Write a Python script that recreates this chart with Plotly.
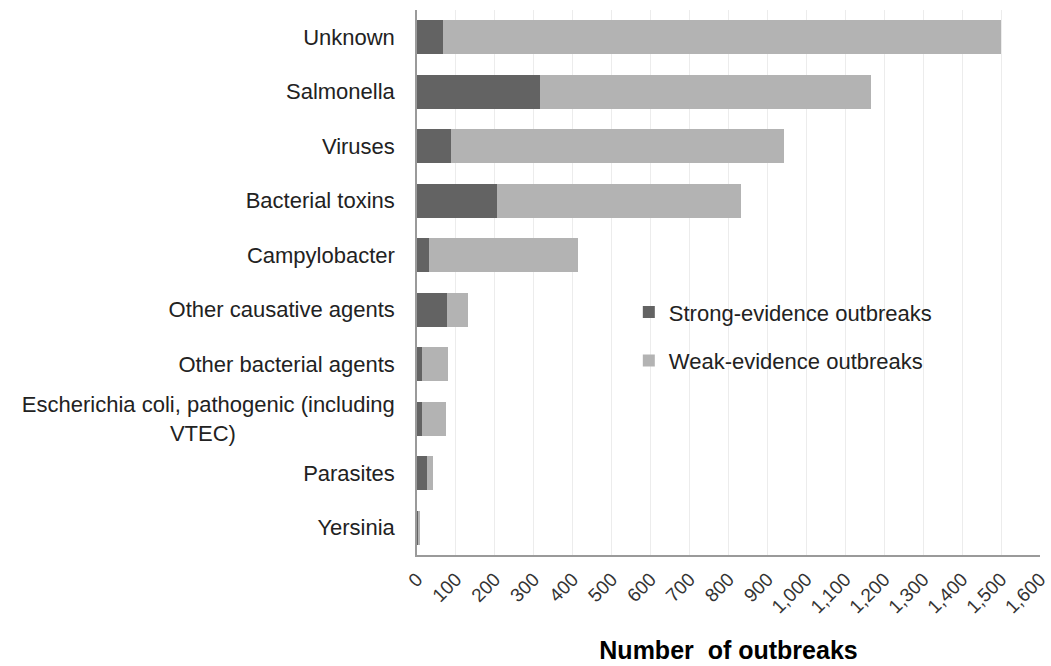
import plotly.graph_objects as go

categories = ["Unknown", "Salmonella", "Viruses", "Bacterial toxins", "Campylobacter",
              "Other causative agents", "Other bacterial agents",
              "Escherichia coli, pathogenic (including VTEC)", "Parasites", "Yersinia"]
strong = [67, 315, 88, 206, 31, 77, 14, 14, 25, 3]
weak = [1433, 850, 854, 626, 383, 54, 66, 61, 16, 4]
x_ticks = list(range(0, 1601, 100))
x_tick_labels = [f"{v:,}" for v in x_ticks]

FONT = "Liberation Sans, Arial, sans-serif"

# display labels: wrap the long one, centring the second line under the first
def display_label(c):
    if c.startswith("Escherichia"):
        return "Escherichia coli, pathogenic (including<br>VTEC)" + "\u00a0" * 26
    return c

y_tick_text = [display_label(c) for c in categories]

fig = go.Figure()
fig.add_trace(go.Bar(y=categories, x=strong, orientation="h", name="Strong-evidence outbreaks",
                     marker=dict(color="#636363", line=dict(width=0)), legendgroup="a"))
fig.add_trace(go.Bar(y=categories, x=weak, orientation="h", name="Weak-evidence outbreaks",
                     marker=dict(color="#b3b3b3", line=dict(width=0)), legendgroup="b"))

fig.update_layout(
    barmode="stack",
    bargap=0.38,
    width=1051, height=666,
    margin=dict(l=417, r=11, t=10, b=111, autoexpand=False),
    paper_bgcolor="white", plot_bgcolor="white",
    font=dict(family=FONT, size=22, color="#222"),
    showlegend=True,
    legend=dict(x=0.34, y=0.484, xanchor="left", yanchor="top", traceorder="grouped",
                tracegroupgap=17, font=dict(size=22, color="#222"),
                itemwidth=30, bgcolor="rgba(0,0,0,0)"),
    xaxis=dict(range=[0, 1600.01], tickvals=x_ticks, ticktext=x_tick_labels, tickangle=-45,
               showgrid=True, gridcolor="#ececec", gridwidth=1, automargin=False,
               showline=True, linecolor="#9a9a9a", linewidth=1.5, ticks="",
               ticklabeloverflow="allow", ticklabelstandoff=4,
               tickfont=dict(size=19, color="#333"),
               title=dict(text="<b>Number  of outbreaks</b>", font=dict(size=25, color="#000"), standoff=25),
               zeroline=False),
    yaxis=dict(autorange="reversed", showline=True, linecolor="#9a9a9a", linewidth=1.5,
               automargin=False, ticklabelstandoff=16,
               tickmode="array", tickvals=categories, ticktext=y_tick_text,
               ticks="", tickfont=dict(size=22, color="#222"), showgrid=False),
)

fig.write_html("out.html", post_script="document.body.style.margin='0';",
               config={"displayModeBar": False})
